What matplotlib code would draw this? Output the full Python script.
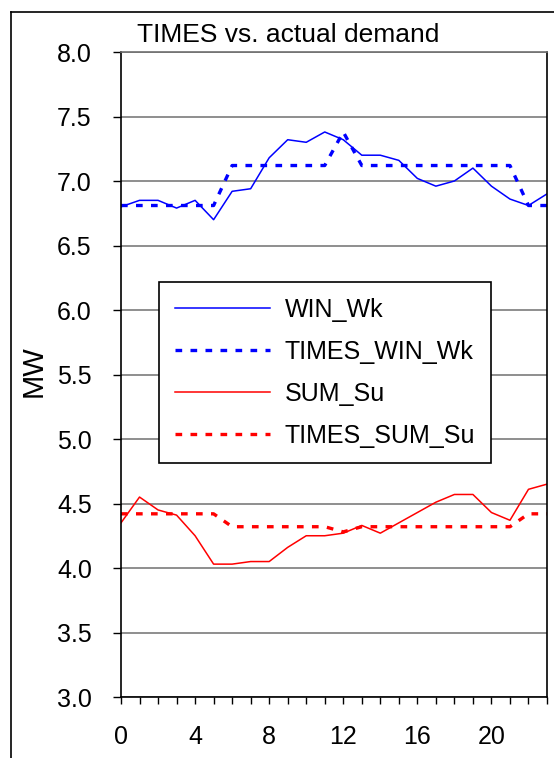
import numpy as np
import matplotlib.pyplot as plt
from matplotlib.lines import Line2D

plt.rcParams['font.family'] = ['Liberation Sans', 'DejaVu Sans']

# Hours of the day
hours = list(range(24))

# Actual demand (MW)
win_wk = [6.80, 6.85, 6.85, 6.79, 6.85, 6.70, 6.92, 6.94, 7.18, 7.32, 7.30, 7.38,
          7.32, 7.20, 7.20, 7.16, 7.02, 6.96, 7.00, 7.10, 6.96, 6.86, 6.81, 6.90]
sum_su = [4.35, 4.55, 4.45, 4.41, 4.25, 4.03, 4.03, 4.05, 4.05, 4.16, 4.25, 4.25,
          4.27, 4.33, 4.27, 4.35, 4.43, 4.51, 4.57, 4.57, 4.43, 4.37, 4.61, 4.65]

# TIMES time-slice values (MW)
times_win_wk = [6.81, 6.81, 6.81, 6.81, 6.81, 6.81, 7.12, 7.12, 7.12, 7.12, 7.12, 7.12,
                7.38, 7.12, 7.12, 7.12, 7.12, 7.12, 7.12, 7.12, 7.12, 7.12, 6.81, 6.81]
times_sum_su = [4.42, 4.42, 4.42, 4.42, 4.42, 4.42, 4.32, 4.32, 4.32, 4.32, 4.32, 4.32,
                4.28, 4.32, 4.32, 4.32, 4.32, 4.32, 4.32, 4.32, 4.32, 4.32, 4.42, 4.42]

W, H = 554, 758
fig = plt.figure(figsize=(W / 100, H / 100), dpi=100)
ax = fig.add_axes([121 / W, 1 - 697 / H, (547 - 121) / W, (697 - 52) / H])

dot = (0, (2.0, 2.5))
ax.plot(hours, win_wk, color='#0000ff', lw=1.1, label='WIN_Wk')
ax.plot(hours, times_win_wk, color='#0000ff', lw=2.4, linestyle=dot, label='TIMES_WIN_Wk')
ax.plot(hours, sum_su, color='#ff0000', lw=1.1, label='SUM_Su')
ax.plot(hours, times_sum_su, color='#ff0000', lw=2.4, linestyle=dot, label='TIMES_SUM_Su')

ax.set_xlim(0, 23)
ax.set_ylim(3.0, 8.0)
ax.set_yticks(np.arange(3.0, 8.01, 0.5))
ax.set_yticklabels([f'{v:.1f}' for v in np.arange(3.0, 8.01, 0.5)])
ax.set_xticks(range(0, 24, 4))
ax.set_xticks(range(24), minor=True)
ax.yaxis.grid(True, color='#707070', lw=1.1)
ax.set_axisbelow(True)

ax.tick_params(axis='y', direction='out', length=6, width=1, labelsize=18, pad=15)
ax.tick_params(axis='x', which='both', direction='out', length=5, width=1,
               labelsize=18, pad=15)
for s in ax.spines.values():
    s.set_color('black')
    s.set_linewidth(1.2)
ax.spines['top'].set_color('#707070')

ax.set_ylabel('MW', fontsize=21)
ax.yaxis.set_label_coords(-0.172, 0.505)

fig.text(137 / W, 1 - 35 / H, 'TIMES vs. actual demand', fontsize=19,
         ha='left', va='center')

leg = ax.legend(loc='upper left', bbox_to_anchor=((159 - 121) / 426, (697 - 282) / 645),
                fontsize=18, frameon=True, fancybox=False, edgecolor='black',
                framealpha=1, handlelength=3.8, handletextpad=0.6,
                labelspacing=0.72, borderpad=0.62, borderaxespad=0)
leg.get_frame().set_linewidth(1.2)

# outer chart border (cropped at right and bottom)
fig.add_artist(Line2D([10.5 / W, 10.5 / W], [0, 1 - 11.5 / H], color='black', lw=1.2))
fig.add_artist(Line2D([10.5 / W, 1], [1 - 11.5 / H, 1 - 11.5 / H], color='black', lw=1.2))

fig.savefig('out.png', dpi=100)
